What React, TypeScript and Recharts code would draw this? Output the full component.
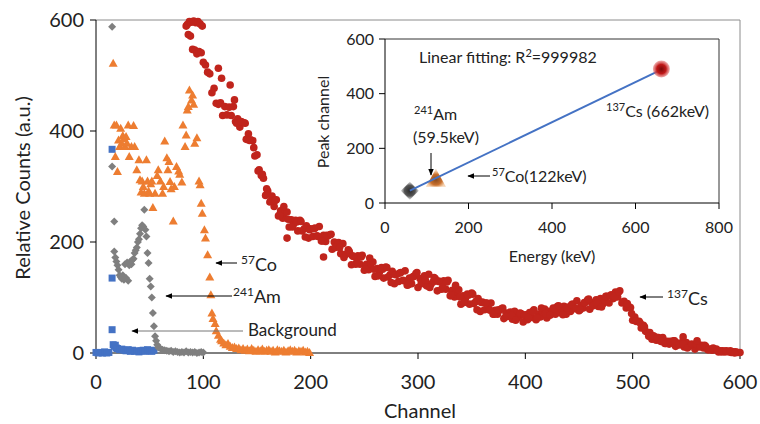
import React from "react";
import { ScatterChart, Scatter, XAxis, YAxis, ReferenceLine } from "recharts";

const FONT = "Lato, 'Open Sans', sans-serif";

// main spectrum: [channel, counts]
const background: [number, number][] = [
  [0, 1], [2, 0], [4, 1], [6, 0], [8, 2], [10, 0], [12, 1],
  [15, 367], [15, 135], [15, 42], [16, 15], [17, 12], [18, 14], [19, 9], [20, 8],
  [22, 6], [24, 7], [26, 5], [28, 4], [30, 6], [32, 3], [34, 5], [36, 3], [38, 4],
  [40, 2], [42, 4], [44, 5], [46, 3], [48, 6], [50, 4], [52, 3], [54, 5],
];

const americium: [number, number][] = [
  [15, 588], [15, 336], [17, 237], [17, 183], [18, 172], [19, 165], [20, 158], [21, 150],
  [22, 140], [23, 137], [24, 134], [25, 140], [26, 132], [27, 160], [28, 135], [29, 163],
  [30, 130], [31, 158], [32, 165], [33, 160], [34, 168], [35, 170], [36, 180], [37, 185],
  [38, 190], [39, 200], [40, 205], [41, 215], [42, 225], [43, 230], [44, 228], [45, 258],
  [46, 222], [47, 210], [48, 180], [49, 162], [50, 134], [51, 120], [52, 100], [53, 72],
  [54, 48], [55, 30], [56, 22], [57, 15], [58, 10], [60, 8], [62, 6], [64, 5], [66, 4],
  [68, 3], [70, 4], [72, 2], [74, 3], [76, 2], [78, 1], [80, 2], [82, 1], [84, 3], [86, 1],
  [88, 2], [90, 1], [92, 2], [94, 0], [96, 1], [98, 2], [100, 1],
];

const cobalt: [number, number][] = [
  [16, 522], [17, 411], [19, 411], [18, 354], [20, 327], [21, 384], [22, 372], [23, 405],
  [24, 378], [25, 392], [26, 386], [27, 372], [28, 390], [29, 378], [30, 411], [31, 354],
  [33, 372], [35, 410], [36, 372], [38, 330], [40, 348], [41, 312], [42, 290], [43, 310],
  [44, 300], [45, 288], [47, 348], [48, 310], [49, 292], [50, 288], [51, 305], [52, 310],
  [53, 262], [55, 288], [57, 320], [58, 330], [60, 310], [62, 288], [63, 300], [64, 382],
  [66, 352], [67, 330], [68, 345], [69, 309], [70, 296], [72, 238], [73, 300], [75, 336],
  [77, 328], [78, 322], [80, 308], [81, 411], [83, 372], [84, 393], [85, 438], [86, 444],
  [87, 474], [89, 456], [90, 465], [91, 448], [92, 378], [94, 388], [96, 310], [97, 303],
  [98, 270], [99, 252], [101, 222], [102, 207], [104, 177], [106, 137], [107, 105], [108, 72],
  [109, 62], [111, 53], [112, 40], [114, 32], [116, 25], [117, 22], [119, 18], [121, 15],
  [123, 17], [125, 12], [127, 10], [129, 11], [131, 8], [133, 9], [135, 6], [137, 8],
  [139, 5], [141, 7], [143, 4], [145, 8], [147, 5], [149, 3], [151, 6], [153, 4], [155, 7],
  [157, 3], [159, 5], [161, 6], [163, 3], [165, 5], [167, 2], [169, 6], [171, 4], [173, 3],
  [175, 5], [177, 2], [179, 4], [181, 6], [183, 3], [185, 5], [187, 2], [189, 4], [191, 3],
  [193, 5], [195, 2], [197, 3], [199, 1],
];

// 137Cs counts on even channels 84..600
const csEvenFirst = 84;
const csEvenStep = 2;
const csEven = [
  589, 574, 571, 547, 546, 539, 543, 541, 524, 519,
  506, 503, 469, 477, 450, 448, 451, 428, 444, 429,
  443, 428, 444, 417, 422, 407, 416, 415, 385, 395,
  384, 383, 355, 357, 330, 320, 315, 284, 292, 272,
  283, 264, 276, 247, 256, 243, 253, 254, 227, 240,
  232, 239, 220, 239, 220, 224, 229, 207, 224, 210,
  225, 211, 228, 202, 212, 201, 211, 213, 187, 200,
  192, 199, 179, 197, 177, 179, 183, 159, 174, 160,
  175, 160, 176, 149, 160, 150, 161, 164, 138, 152,
  145, 154, 135, 155, 137, 141, 147, 125, 142, 129,
  145, 131, 148, 122, 135, 125, 138, 143, 118, 134,
  129, 139, 121, 142, 124, 128, 134, 112, 129, 115,
  130, 115, 131, 103, 113, 101, 111, 114, 88, 103,
  97, 106, 88, 108, 89, 93, 98, 75, 92, 78,
  90, 79, 90, 70, 77, 70, 77, 80, 62, 72,
  68, 74, 61, 75, 62, 66, 71, 56, 69, 60,
  73, 64, 78, 60, 70, 65, 75, 79, 63, 75,
  73, 81, 70, 84, 73, 78, 84, 70, 83, 75,
  88, 80, 94, 76, 86, 81, 91, 96, 79, 91,
  88, 96, 84, 98, 88, 94, 102, 90, 105, 98,
  110, 101, 112, 90, 93, 81, 84, 82, 59, 65,
  57, 57, 45, 50, 39, 37, 37, 25, 30, 23,
  28, 21, 28, 17, 21, 16, 20, 22, 12, 18,
  15, 19, 11, 19, 12, 13, 15, 7, 18, 11,
  14, 9, 12, 6, 7, 5, 6, 7, 2, 4,
  4, 2, 3, 2, 1, 2, 2, 1, 1,
];

// 137Cs counts on odd channels 131..595, every 4th
const csOddFirst = 131;
const csOddStep = 4;
const csOdd = [
  414, 417, 414, 383, 370, 328, 322, 296, 274, 275,
  248, 264, 241, 227, 236, 237, 209, 222, 224, 210,
  202, 212, 214, 190, 190, 172, 186, 175, 164, 173,
  151, 171, 151, 139, 151, 154, 127, 141, 144, 130,
  123, 137, 145, 125, 131, 118, 136, 129, 119, 128,
  105, 122, 101, 91, 104, 106, 78, 91, 90, 77,
  70, 78, 81, 66, 68, 59, 72, 68, 64, 75,
  63, 81, 71, 68, 80, 85, 69, 81, 87, 80,
  78, 91, 97, 85, 90, 83, 102, 103, 102, 110,
  92, 89, 71, 57, 54, 47, 30, 31, 28, 21,
  17, 21, 22, 15, 16, 9, 16, 16, 12, 14,
  6, 9, 5, 2, 4, 4, 0,
];

// top of the 137Cs Compton edge and a few stray points
const csExtra: [number, number][] = [
  [85, 592], [87, 597], [89, 596], [91, 598], [93, 595], [95, 597], [97, 593], [99, 589],
  [114, 513], [117, 495], [125, 483], [129, 456], [178, 207], [212, 173], [547, 29], [560, 22],
];

// inset: peak channel vs energy
const insetAm: [number, number][] = [[59.5, 45]];
const insetCo: [number, number][] = [[122, 85]];
const insetCs: [number, number][] = [[662, 490]];
const fitLine: [number, number][] = [[59.5, 45], [662, 488]];

const mainTicksX = [0, 100, 200, 300, 400, 500, 600];
const mainTicksY = [0, 200, 400, 600];
const insetTicksX = [0, 200, 400, 600, 800];
const insetTicksY = [0, 200, 400, 600];

const toXY = (arr: [number, number][]) => arr.map(([x, y]) => ({ x, y }));
const csData = [
  ...csEven.map((y, i) => ({ x: csEvenFirst + i * csEvenStep, y })),
  ...csOdd.map((y, i) => ({ x: csOddFirst + i * csOddStep, y })),
  ...toXY(csExtra),
];

const Square = ({ cx, cy }: any) => (
  <rect x={cx - 3.5} y={cy - 3.5} width={7} height={7} fill="#4472C4" />
);
const Diamond = ({ cx, cy }: any) => (
  <polygon points={`${cx},${cy - 4} ${cx + 4},${cy} ${cx},${cy + 4} ${cx - 4},${cy}`} fill="#7F7F7F" />
);
const Triangle = ({ cx, cy }: any) => (
  <polygon points={`${cx},${cy - 4.5} ${cx + 4.5},${cy + 3.5} ${cx - 4.5},${cy + 3.5}`} fill="#ED7D31" />
);
const Dot = ({ cx, cy }: any) => <circle cx={cx} cy={cy} r={3.8} fill="#C0241C" />;

const BigDiamond = ({ cx, cy }: any) => (
  <g>
    <defs>
      <radialGradient id="gDia">
        <stop offset="0%" stopColor="#2a2a2a" />
        <stop offset="60%" stopColor="#555" />
        <stop offset="100%" stopColor="#999" stopOpacity={0.4} />
      </radialGradient>
    </defs>
    <polygon points={`${cx},${cy - 9} ${cx + 9},${cy} ${cx},${cy + 9} ${cx - 9},${cy}`} fill="url(#gDia)" />
  </g>
);
const BigTriangle = ({ cx, cy }: any) => (
  <g>
    <defs>
      <radialGradient id="gTri" cy="60%">
        <stop offset="0%" stopColor="#8a4a1c" />
        <stop offset="60%" stopColor="#c8702e" />
        <stop offset="100%" stopColor="#eea866" stopOpacity={0.5} />
      </radialGradient>
    </defs>
    <polygon points={`${cx},${cy - 11} ${cx + 10},${cy + 7} ${cx - 10},${cy + 7}`} fill="url(#gTri)" />
  </g>
);
const BigDot = ({ cx, cy }: any) => (
  <g>
    <defs>
      <radialGradient id="gDot">
        <stop offset="0%" stopColor="#7a0a0a" />
        <stop offset="55%" stopColor="#c01818" />
        <stop offset="100%" stopColor="#e06060" stopOpacity={0.5} />
      </radialGradient>
    </defs>
    <circle cx={cx} cy={cy} r={8.5} fill="url(#gDot)" />
  </g>
);
const NoShape = () => null;

const axisStroke = { stroke: "#000" };

export default function App() {
  return (
    <div style={{ position: "absolute", left: 0, top: 0, width: 760, height: 424, background: "#fff", fontFamily: FONT }}>
      <div style={{ position: "absolute", left: 0, top: 0 }}>
        <ScatterChart width={760} height={424} margin={{ top: 20, right: 20, bottom: 0, left: 36 }}>
          <XAxis
            type="number"
            dataKey="x"
            domain={[0, 600]}
            ticks={mainTicksX}
            interval={0}
            height={71}
            tickSize={6}
            tickMargin={16}
            axisLine={axisStroke}
            tickLine={axisStroke}
            tick={{ fontSize: 20, fill: "#222", fontFamily: FONT }}
          />
          <YAxis
            type="number"
            dataKey="y"
            domain={[0, 600]}
            ticks={mainTicksY}
            interval={0}
            width={60}
            tickSize={6}
            tickMargin={6}
            axisLine={axisStroke}
            tickLine={axisStroke}
            tick={{ fontSize: 20, fill: "#222", fontFamily: FONT }}
          />
          <ReferenceLine y={600} stroke="#8c8c8c" />
          <ReferenceLine x={600} stroke="#8c8c8c" />
          <Scatter data={toXY(background)} shape={Square} isAnimationActive={false} />
          <Scatter data={toXY(americium)} shape={Diamond} isAnimationActive={false} />
          <Scatter data={toXY(cobalt)} shape={Triangle} isAnimationActive={false} />
          <Scatter data={csData} shape={Dot} isAnimationActive={false} />
        </ScatterChart>
      </div>
      <div style={{ position: "absolute", left: 320, top: 20 }}>
        <ScatterChart width={420} height={250} margin={{ top: 19, right: 21, bottom: 0, left: 5 }}>
          <XAxis
            type="number"
            dataKey="x"
            domain={[0, 800]}
            ticks={insetTicksX}
            interval={0}
            height={67}
            tickSize={6}
            tickMargin={13}
            axisLine={axisStroke}
            tickLine={axisStroke}
            tick={{ fontSize: 16, fill: "#222", fontFamily: FONT }}
          />
          <YAxis
            type="number"
            dataKey="y"
            domain={[0, 600]}
            ticks={insetTicksY}
            interval={0}
            width={60}
            tickSize={6}
            tickMargin={5}
            axisLine={axisStroke}
            tickLine={axisStroke}
            tick={{ fontSize: 16, fill: "#222", fontFamily: FONT }}
          />
          <ReferenceLine y={600} stroke="#333" />
          <ReferenceLine x={800} stroke="#333" />
          <Scatter data={toXY(insetAm)} shape={BigDiamond} isAnimationActive={false} />
          <Scatter data={toXY(insetCo)} shape={BigTriangle} isAnimationActive={false} />
          <Scatter
            data={toXY(fitLine)}
            line={{ stroke: "#4472C4", strokeWidth: 2 }}
            shape={NoShape}
            isAnimationActive={false}
          />
          <Scatter data={toXY(insetCs)} shape={BigDot} isAnimationActive={false} />
        </ScatterChart>
      </div>
      <svg width={760} height={424} style={{ position: "absolute", left: 0, top: 0, pointerEvents: "none" }}>
        <defs>
          <marker id="arr" viewBox="0 0 10 10" refX="9" refY="5" markerWidth="7" markerHeight="7" orient="auto">
            <path d="M0,1 L10,5 L0,9 z" fill="#000" />
          </marker>
        </defs>
        <g fontFamily={FONT} fill="#222">
          <text x={22} y={188} fontSize={20} textAnchor="middle" dominantBaseline="central" transform="rotate(-90 22 188)">
            Relative Counts (a.u.)
          </text>
          <text x={420} y={418} fontSize={20} textAnchor="middle">Channel</text>

          <line x1={237} y1={263} x2={216} y2={263} stroke="#000" strokeWidth={1} markerEnd="url(#arr)" />
          <text x={241} y={271} fontSize={18}>
            <tspan fontSize={12} dy={-7}>57</tspan>
            <tspan dy={7}>Co</tspan>
          </text>
          <line x1={232} y1={296} x2={166} y2={296} stroke="#000" strokeWidth={1} markerEnd="url(#arr)" />
          <text x={233} y={303} fontSize={18}>
            <tspan fontSize={12} dy={-7}>241</tspan>
            <tspan dy={7}>Am</tspan>
          </text>
          <line x1={243} y1={331} x2={132} y2={331} stroke="#777" strokeWidth={1} markerEnd="url(#arr)" />
          <text x={248} y={336} fontSize={17}>Background</text>
          <line x1={663} y1={297} x2={640} y2={297} stroke="#000" strokeWidth={1} markerEnd="url(#arr)" />
          <text x={667} y={305} fontSize={18}>
            <tspan fontSize={12} dy={-7}>137</tspan>
            <tspan dy={7}>Cs</tspan>
          </text>

          <text x={322} y={122} fontSize={16} textAnchor="middle" dominantBaseline="central" transform="rotate(-90 322 122)">
            Peak channel
          </text>
          <text x={552} y={262} fontSize={16} textAnchor="middle">Energy (keV)</text>
          <text x={419} y={63} fontSize={16}>
            Linear fitting: R<tspan fontSize={11} dy={-6}>2</tspan><tspan dy={6}>=999982</tspan>
          </text>
          <text x={414} y={120} fontSize={16}>
            <tspan fontSize={11} dy={-6}>241</tspan>
            <tspan dy={6}>Am</tspan>
          </text>
          <text x={413} y={143} fontSize={16}>(59.5keV)</text>
          <line x1={431} y1={153} x2={431} y2={175} stroke="#000" strokeWidth={1} markerEnd="url(#arr)" />
          <line x1={490} y1={176} x2={468} y2={176} stroke="#000" strokeWidth={1} markerEnd="url(#arr)" />
          <text x={492} y={182} fontSize={16}>
            <tspan fontSize={11} dy={-6}>57</tspan>
            <tspan dy={6}>Co(122keV)</tspan>
          </text>
          <text x={606} y={117} fontSize={16}>
            <tspan fontSize={11} dy={-6}>137</tspan>
            <tspan dy={6}>Cs (662keV)</tspan>
          </text>
        </g>
      </svg>
    </div>
  );
}
